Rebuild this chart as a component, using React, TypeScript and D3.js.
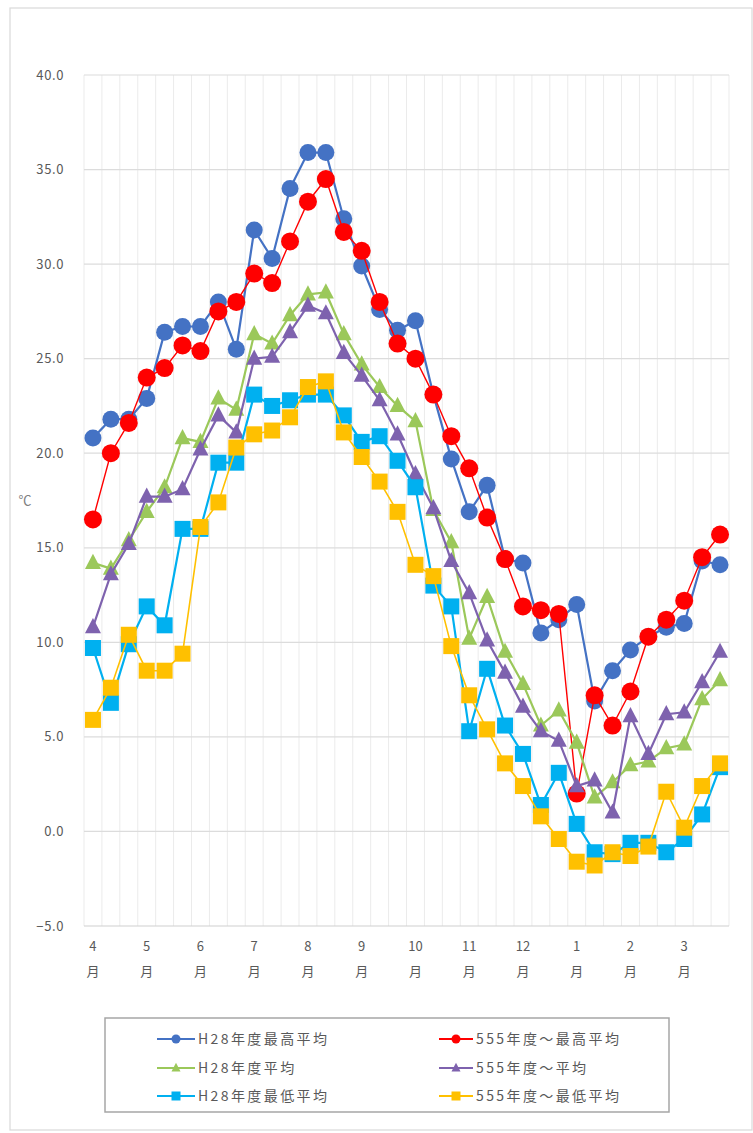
import React from "react";
import * as d3 from "d3";

const monthLabels = ["4", "5", "6", "7", "8", "9", "10", "11", "12", "1", "2", "3"];
const yTicks = [-5, 0, 5, 10, 15, 20, 25, 30, 35, 40];

const h28Max = [20.8, 21.8, 21.8, 22.9, 26.4, 26.7, 26.7, 28.0, 25.5, 31.8, 30.3, 34.0, 35.9, 35.9, 32.4, 29.9, 27.6, 26.5, 27.0, 23.1, 19.7, 16.9, 18.3, 14.4, 14.2, 10.5, 11.2, 12.0, 6.9, 8.5, 9.6, 10.3, 10.8, 11.0, 14.3, 14.1];
const s55Max = [16.5, 20.0, 21.6, 24.0, 24.5, 25.7, 25.4, 27.5, 28.0, 29.5, 29.0, 31.2, 33.3, 34.5, 31.7, 30.7, 28.0, 25.8, 25.0, 23.1, 20.9, 19.2, 16.6, 14.4, 11.9, 11.7, 11.5, 2.0, 7.2, 5.6, 7.4, 10.3, 11.2, 12.2, 14.5, 15.7];
const h28Avg = [14.2, 13.9, 15.4, 16.9, 18.2, 20.8, 20.6, 22.9, 22.3, 26.3, 25.8, 27.3, 28.4, 28.5, 26.3, 24.7, 23.5, 22.5, 21.7, 17.0, 15.3, 10.2, 12.4, 9.5, 7.8, 5.6, 6.4, 4.7, 1.8, 2.6, 3.5, 3.7, 4.4, 4.6, 7.0, 8.0];
const s55Avg = [10.8, 13.6, 15.2, 17.7, 17.7, 18.1, 20.2, 22.0, 21.1, 25.0, 25.1, 26.4, 27.8, 27.4, 25.3, 24.1, 22.8, 21.0, 18.9, 17.1, 14.3, 12.6, 10.1, 8.4, 6.6, 5.3, 4.8, 2.4, 2.7, 1.0, 6.1, 4.1, 6.2, 6.3, 7.9, 9.5];
const h28Min = [9.7, 6.8, 9.9, 11.9, 10.9, 16.0, 16.0, 19.5, 19.5, 23.1, 22.5, 22.8, 23.1, 23.1, 22.0, 20.6, 20.9, 19.6, 18.2, 13.0, 11.9, 5.3, 8.6, 5.6, 4.1, 1.4, 3.1, 0.4, -1.1, -1.2, -0.6, -0.6, -1.1, -0.4, 0.9, 3.4];
const s55Min = [5.9, 7.6, 10.4, 8.5, 8.5, 9.4, 16.1, 17.4, 20.3, 21.0, 21.2, 21.9, 23.5, 23.8, 21.1, 19.8, 18.5, 16.9, 14.1, 13.5, 9.8, 7.2, 5.4, 3.6, 2.4, 0.8, -0.4, -1.6, -1.8, -1.1, -1.3, -0.8, 2.1, 0.2, 2.4, 3.6];

const seriesNames = ["H28年度最高平均", "555年度～最高平均", "H28年度平均", "555年度～平均", "H28年度最低平均", "555年度～最低平均"];
const seriesColors = ["#4472C4", "#FF0000", "#9BC85A", "#7E62AE", "#00B0F0", "#FFC000"];
const seriesShapes = ["circle", "circle", "triangle", "triangle", "square", "square"];
const seriesWidths = [2.2, 1.4, 2.2, 2.2, 2.2, 1.6];
const seriesData = [h28Max, s55Max, h28Avg, s55Avg, h28Min, s55Min];

const W = 753;
const H = 1133;
const FONT = "'Noto Sans CJK JP', 'Noto Sans', sans-serif";
const TXT = "#595959";

function Marker({ shape, x, y, size, color }: { shape: string; x: number; y: number; size: number; color: string }) {
  if (shape === "circle") return <circle cx={x} cy={y} r={size / 2} fill={color} />;
  if (shape === "square")
    return <rect x={x - size / 2} y={y - size / 2} width={size} height={size} fill={color} />;
  const h = size * 0.95;
  const p = `${x},${y - h * 0.6} ${x + size / 2},${y + h * 0.4} ${x - size / 2},${y + h * 0.4}`;
  return <polygon points={p} fill={color} />;
}

export default function App() {
  const left = 84;
  const right = 729;
  const idx = d3.range(36);
  const x = d3.scaleBand<number>().domain(idx).range([left, right]);
  const cx = (i: number) => (x(i) as number) + x.bandwidth() / 2;
  const y = d3.scaleLinear().domain([-5, 40]).range([926, 75]);
  const line = d3
    .line<number>()
    .x((_, i) => cx(i))
    .y((d) => y(d));

  const markerSizes = [17, 18, 16, 16, 16, 16];

  const legendRows = [1039, 1068, 1096];
  const legendCols = [
    { l0: 157, l1: 195, m: 176, t: 198 },
    { l0: 439, l1: 473, m: 456, t: 476 },
  ];

  return (
    <div style={{ position: "absolute", left: 0, top: 0 }}>
      <svg width={W} height={H} style={{ display: "block", background: "#fff" }}>
        <rect x={10} y={8} width={742} height={1122} fill="#fff" stroke="#d9d9d9" strokeWidth={1.2} />
        {/* vertical gridlines */}
        {d3.range(37).map((k) => {
          const xx = left + k * x.step();
          return <line key={"v" + k} x1={xx} x2={xx} y1={y(40)} y2={y(-5)} stroke="#ebebeb" strokeWidth={1} />;
        })}
        {/* horizontal gridlines */}
        {yTicks.map((t) => (
          <line key={"h" + t} x1={left} x2={right} y1={y(t)} y2={y(t)} stroke={t === -5 ? "#d0d0d0" : "#dcdcdc"} strokeWidth={1.2} />
        ))}
        {yTicks.map((t) => (
          <text key={"yl" + t} x={64} y={y(t)} dy="0.35em" textAnchor="end" fontSize={13} letterSpacing={0.6} fill={TXT} fontFamily={FONT}>
            {d3.format(".1f")(t)}
          </text>
        ))}
        <text x={25} y={505} textAnchor="middle" fontSize={13} fill="#808080" fontFamily={FONT}>
          ℃
        </text>
        {monthLabels.map((m, k) => (
          <g key={"m" + k}>
            <text x={cx(k * 3)} y={951} textAnchor="middle" fontSize={13} fill={TXT} fontFamily={FONT}>
              {m}
            </text>
            <text x={cx(k * 3)} y={976} textAnchor="middle" fontSize={13} fill={TXT} fontFamily={FONT}>
              月
            </text>
          </g>
        ))}
        {/* series */}
        {seriesData.map((data, s) => (
          <g key={"s" + s}>
            <path d={line(data) || ""} fill="none" stroke={seriesColors[s]} strokeWidth={seriesWidths[s]} />
            {data.map((v, i) => (
              <Marker key={i} shape={seriesShapes[s]} x={cx(i)} y={y(v)} size={markerSizes[s]} color={seriesColors[s]} />
            ))}
          </g>
        ))}
        {/* legend */}
        <rect x={105} y={1018} width={564} height={94} fill="#fff" stroke="#a6a6a6" strokeWidth={1.5} />
        {seriesNames.map((name, s) => {
          const row = Math.floor(s / 2);
          const col = legendCols[s % 2];
          const yy = legendRows[row];
          return (
            <g key={"lg" + s}>
              <line x1={col.l0} x2={col.l1} y1={yy} y2={yy} stroke={seriesColors[s]} strokeWidth={2} />
              <Marker shape={seriesShapes[s]} x={col.m} y={yy} size={9} color={seriesColors[s]} />
              <text x={col.t} y={yy} dy="0.35em" fontSize={14} letterSpacing={2.4} fill={TXT} fontFamily={FONT}>
                {name}
              </text>
            </g>
          );
        })}
      </svg>
    </div>
  );
}
